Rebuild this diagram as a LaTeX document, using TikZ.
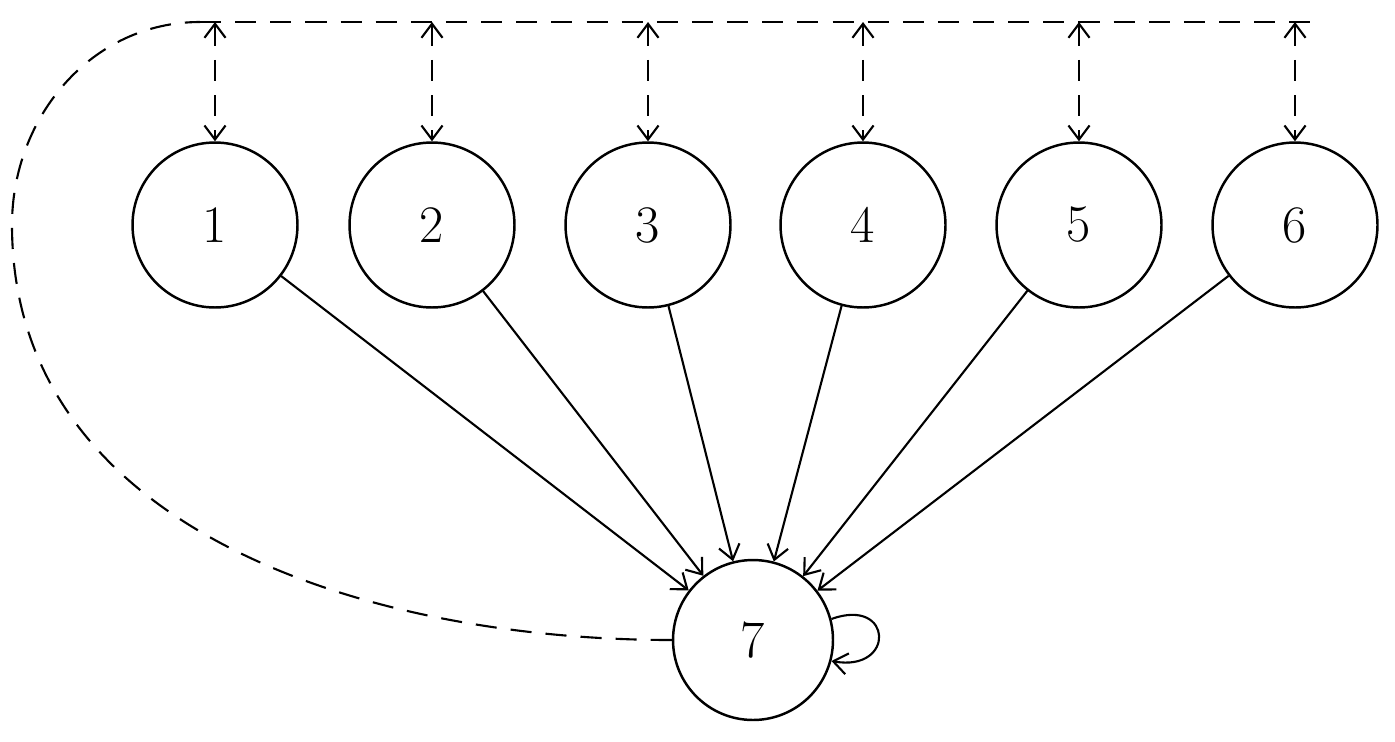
\documentclass[tikz,border=0pt]{standalone}
\usetikzlibrary{arrows.meta}
\begin{document}
\begin{tikzpicture}[x=0.02cm,y=-0.02cm,
  st/.style={circle,draw,line width=1.4pt,minimum size=3.3cm,inner sep=0pt,font=\fontsize{30}{30}\selectfont},
  ar/.style={line width=1.2pt,-{Straight Barb[length=8pt,width=12pt]}},
  dsh/.style={line width=1.2pt,dash pattern=on 12pt off 8pt}]
\useasboundingbox (0,0) rectangle (1395,741);
\foreach \i/\x in {1/215,2/432,3/648,4/863,5/1079,6/1295}{
  \node[st] (n\i) at (\x,225) {\i};
  \coordinate (t\i) at (\x,22);
}
\node[st,minimum size=3.2cm] (n7) at (753,640) {7};
\coordinate (tl) at (200,22);
\coordinate (tr) at (1310,22);
\draw[dsh] (tl) -- (tr);
\foreach \i in {1,...,6}{
  \draw[ar,dsh,{Straight Barb[length=8pt,width=12pt]}-{Straight Barb[length=8pt,width=12pt]}] (t\i) -- (n\i);
  \draw[ar] (n\i) -- (n7);
}
\draw[dsh] (n7.west) to[out=180,in=-90] (12,225) to[out=90,in=180] (tl);
\draw[ar] (n7.15) to[out=20,in=-10,looseness=4] (n7.-15);
\end{tikzpicture}
\end{document}
